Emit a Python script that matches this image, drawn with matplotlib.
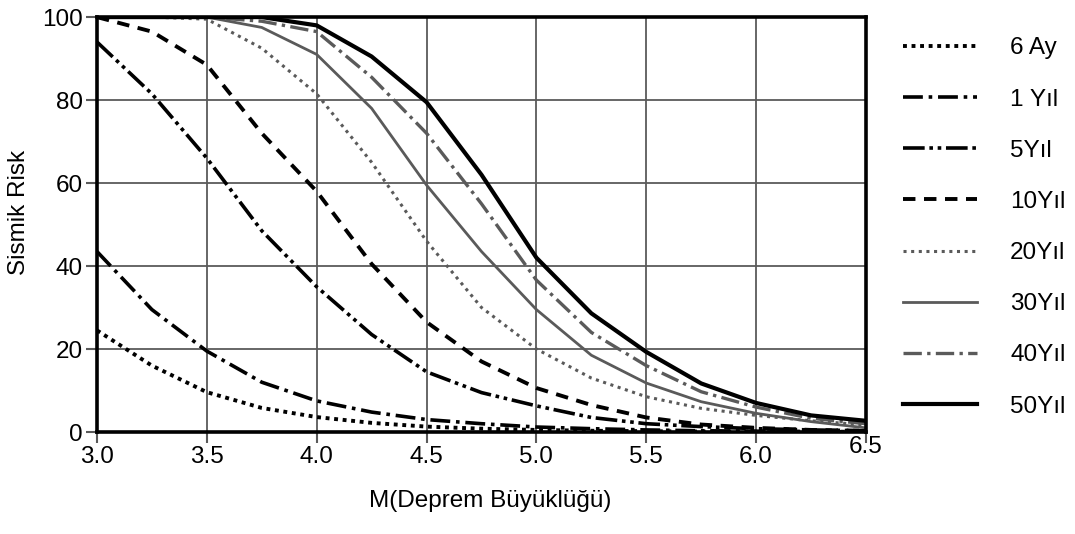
import matplotlib
matplotlib.use("Agg")
import matplotlib.pyplot as plt

plt.rcParams['font.family'] = ['Liberation Sans', 'DejaVu Sans']

# magnitude values (x axis)
M = [3.0, 3.25, 3.5, 3.75, 4.0, 4.25, 4.5, 4.75, 5.0, 5.25, 5.5, 5.75, 6.0, 6.25, 6.5]

# seismic risk (%) for each time period
ay6 = [24.5, 16, 9.6, 5.8, 3.6, 2.2, 1.3, 0.8, 0.5, 0.3, 0.2, 0.1, 0.1, 0.05, 0]
yil1 = [43.5, 29.5, 19.5, 12, 7.5, 4.8, 3, 2, 1.2, 0.8, 0.5, 0.3, 0.2, 0.1, 0.1]
yil5 = [94, 81.5, 66, 48.5, 35, 23.5, 14.5, 9.5, 6.3, 3.5, 2.0, 1.3, 0.8, 0.5, 0.3]
yil10 = [100, 96.5, 88.5, 72, 58, 40.5, 26.5, 17, 10.6, 6.5, 3.5, 1.8, 1.0, 0.5, 0.3]
yil20 = [100, 100, 99.5, 92.5, 81.5, 65, 46, 30, 20, 13, 8.5, 5.7, 4, 2.7, 1.7]
yil30 = [100, 100, 100, 97.5, 91, 78, 59.5, 43.5, 29.5, 18.5, 11.8, 7.3, 4.5, 2.5, 1.0]
yil40 = [100, 100, 100, 99, 96.5, 85.5, 72, 55, 36.6, 24, 16, 9.7, 6, 3.3, 2]
yil50 = [100, 100, 100, 100, 98, 90.5, 79.5, 62, 42, 28.6, 19.3, 11.7, 7, 4, 2.7]

labels = ["6 Ay", "1 Yıl", "5Yıl", "10Yıl", "20Yıl", "30Yıl", "40Yıl", "50Yıl"]
x_ticks = [3.0, 3.5, 4.0, 4.5, 5.0, 5.5, 6.0, 6.5]
y_ticks = [0, 20, 40, 60, 80, 100]

gray = '#5a5a5a'
fs = 17.5

fig, ax = plt.subplots(figsize=(10.75, 5.34), dpi=100)
fig.subplots_adjust(left=0.0902, right=0.8056, top=0.968, bottom=0.191)

ax.plot(M, ay6, color='black', lw=2.8, linestyle=(0, (1.0, 1.2)), label=labels[0])
ax.plot(M, yil1, color='black', lw=2.6, linestyle=(0, (5.5, 1.6, 1.0, 1.6)), label=labels[1])
ax.plot(M, yil5, color='black', lw=2.6, linestyle=(0, (6, 1.3, 1.0, 1.3, 1.0, 1.3)), label=labels[2])
ax.plot(M, yil10, color='black', lw=2.8, linestyle=(0, (3.2, 2.2)), label=labels[3])
ax.plot(M, yil20, color=gray, lw=2.2, linestyle=(0, (1.0, 1.5)), label=labels[4])
ax.plot(M, yil30, color=gray, lw=2.0, linestyle='-', label=labels[5])
ax.plot(M, yil40, color=gray, lw=2.4, linestyle=(0, (5.5, 1.6, 1.0, 1.6)), label=labels[6])
ax.plot(M, yil50, color='black', lw=3.0, linestyle='-', label=labels[7])

ax.set_xlim(3.0, 6.5)
ax.set_ylim(0, 100)
ax.set_xticks(x_ticks)
ax.set_xticklabels([f"{t:.1f}" for t in x_ticks])
ax.set_yticks(y_ticks)
ax.grid(True, color=gray, lw=1.3)
for s in ax.spines.values():
    s.set_linewidth(2.6)
    s.set_color('black')
    s.set_zorder(3)
ax.tick_params(axis='both', which='major', direction='out', length=8, width=1.5,
               color=gray, labelsize=fs, pad=2)
ax.xaxis.get_major_ticks()[-1].set_pad(-5)

ax.set_xlabel("M(Deprem Büyüklüğü)", fontsize=fs)
ax.set_ylabel("Sismik Risk", fontsize=fs)
ax.xaxis.set_label_coords(0.511, -0.139)
ax.yaxis.set_label_coords(-0.087, 0.528)

fig.legend(loc='upper left', bbox_to_anchor=(0.84, 0.930), frameon=False,
           fontsize=fs, handlelength=3.05, handletextpad=1.36, labelspacing=1.2,
           borderpad=0, borderaxespad=0)

fig.savefig("out.png", dpi=100)
